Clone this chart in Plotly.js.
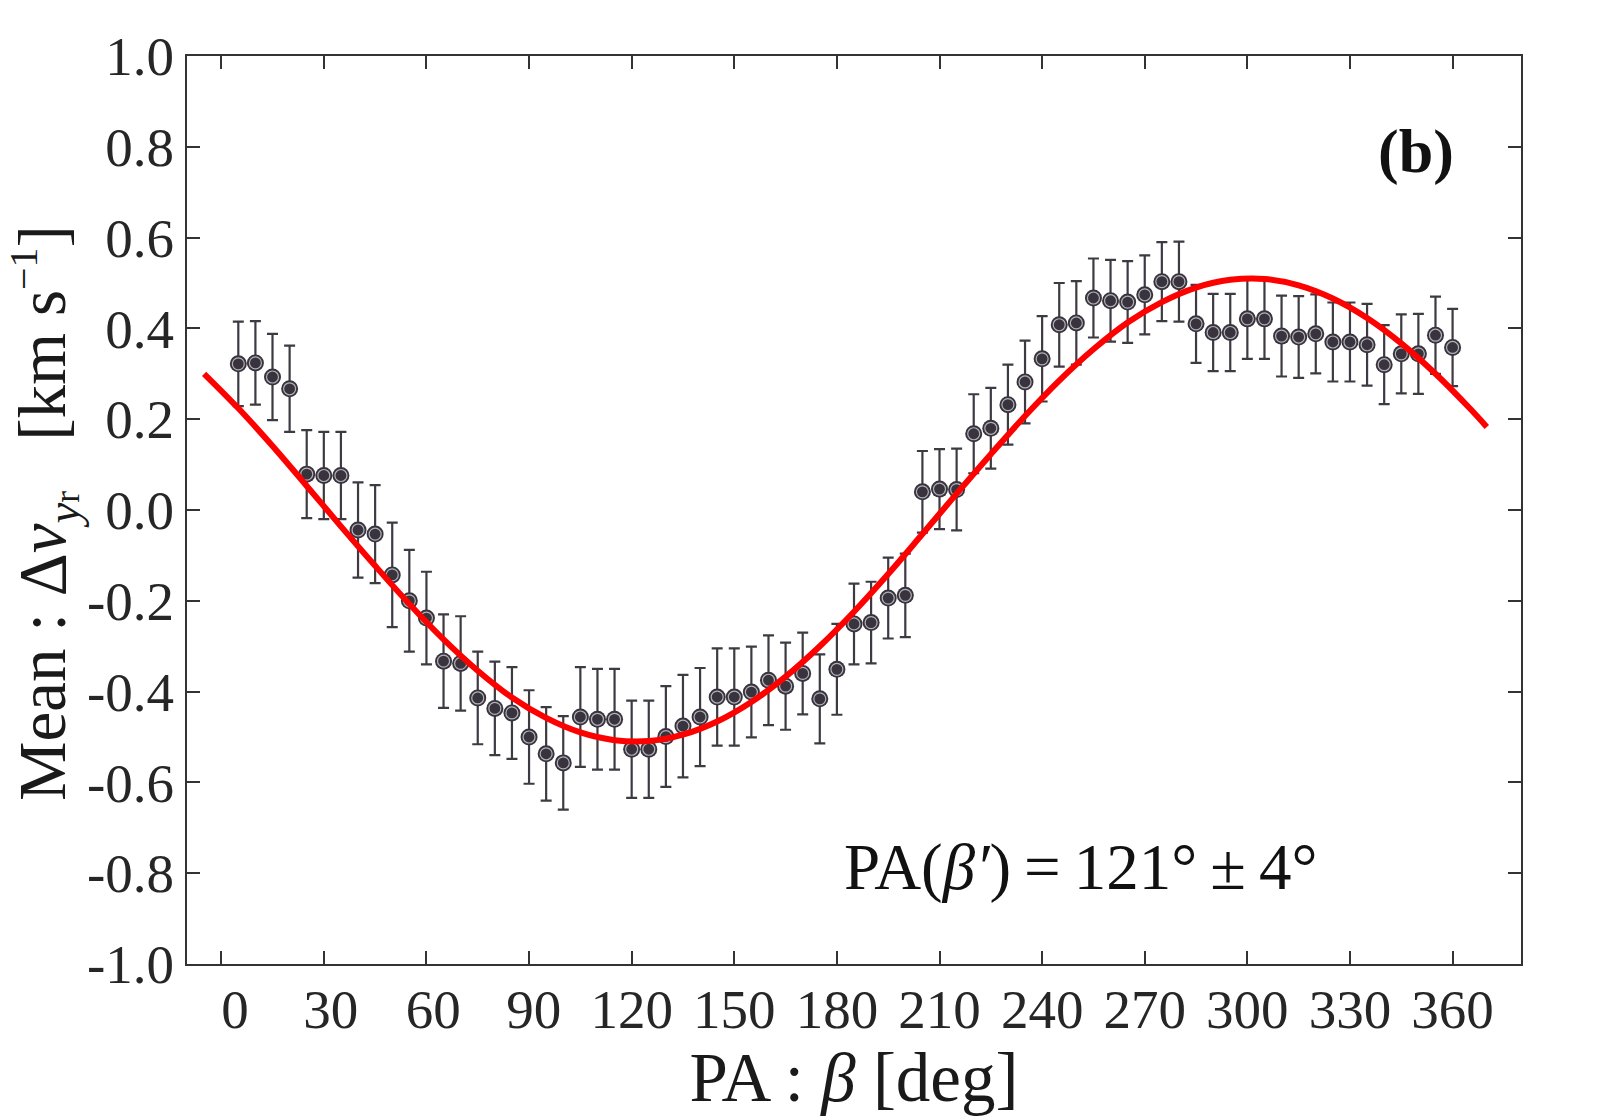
<!DOCTYPE html>
<html>
<head>
<meta charset="utf-8">
<script src="https://cdn.plot.ly/plotly-3.0.1.min.js"></script>
<style>html,body{margin:0;padding:0;background:#fff;}#chart{width:1600px;height:1120px;}</style>
</head>
<body>
<div id="chart"></div>
<script>
// Measured points: position angle (deg), mean value, error
const pa = [5,10,15,20,25,30,35,40,45,50,55,60,65,70,75,80,85,90,95,100,105,110,115,120,125,130,135,140,145,150,155,160,165,170,175,180,185,190,195,200,205,210,215,220,225,230,235,240,245,250,255,260,265,270,275,280,285,290,295,300,305,310,315,320,325,330,335,340,345,350,355,360];
const meanV = [0.322,0.324,0.293,0.267,0.079,0.076,0.076,-0.044,-0.053,-0.143,-0.200,-0.238,-0.333,-0.338,-0.414,-0.437,-0.447,-0.500,-0.537,-0.557,-0.456,-0.461,-0.461,-0.527,-0.527,-0.499,-0.476,-0.456,-0.412,-0.412,-0.401,-0.375,-0.388,-0.360,-0.416,-0.351,-0.251,-0.248,-0.194,-0.188,0.040,0.046,0.045,0.168,0.180,0.232,0.282,0.333,0.408,0.412,0.467,0.461,0.458,0.474,0.503,0.503,0.410,0.391,0.391,0.421,0.421,0.383,0.381,0.388,0.370,0.370,0.364,0.320,0.344,0.344,0.385,0.358];
const errV = [0.093,0.092,0.095,0.095,0.097,0.096,0.096,0.105,0.108,0.115,0.112,0.102,0.103,0.104,0.102,0.103,0.101,0.103,0.103,0.103,0.110,0.111,0.111,0.107,0.107,0.111,0.113,0.108,0.107,0.107,0.100,0.099,0.096,0.090,0.098,0.100,0.089,0.090,0.089,0.092,0.090,0.088,0.090,0.087,0.089,0.088,0.091,0.094,0.092,0.092,0.087,0.090,0.090,0.087,0.087,0.088,0.086,0.085,0.085,0.088,0.088,0.089,0.090,0.087,0.087,0.087,0.090,0.087,0.087,0.088,0.085,0.085];

// Fitted curve
const fitX = [-5,5,15,25,35,45,55,65,75,85,95,105,115,125,135,145,155,165,175,185,195,205,215,225,235,245,255,265,275,285,295,305,315,325,335,345,355,365,370];
const fitY = [0.300,0.224,0.141,0.053,-0.036,-0.123,-0.207,-0.285,-0.354,-0.413,-0.458,-0.490,-0.507,-0.509,-0.495,-0.466,-0.423,-0.367,-0.300,-0.224,-0.141,-0.053,0.036,0.123,0.207,0.285,0.354,0.413,0.458,0.490,0.507,0.509,0.495,0.466,0.423,0.367,0.300,0.224,0.183];

// Tick labels
const xTickVals = [0,30,60,90,120,150,180,210,240,270,300,330,360];
const xTickText = ['\u20020','\u200530','\u200560','\u200690','120','150','180','210','240','270','300','330','360'];
const yTickVals = [-1.0,-0.8,-0.6,-0.4,-0.2,0.0,0.2,0.4,0.6,0.8,1.0];
const yTickText = ['-1.0','-0.8','-0.6','-0.4','-0.2','0.0','0.2','0.4','0.6','0.8','1.0'];

const dark = '#38333d';
const serif = 'Liberation Serif, Times New Roman, serif';

const traces = [
  {
    x: pa, y: meanV, type: 'scatter', mode: 'markers',
    marker: {size: 17, color: dark, line: {width: 0}},
    error_y: {type: 'data', array: errV, visible: true, color: '#3d3a42', thickness: 2.2, width: 5.5},
    hoverinfo: 'x+y', showlegend: false
  },
  {
    x: pa, y: meanV, type: 'scatter', mode: 'markers',
    marker: {size: 12, color: dark, line: {width: 1.2, color: 'rgba(200,200,208,0.85)'}},
    hoverinfo: 'skip', showlegend: false
  },
  {
    x: fitX, y: fitY, type: 'scatter', mode: 'lines',
    line: {color: '#ff0000', width: 6, shape: 'spline', smoothing: 1},
    hoverinfo: 'skip', showlegend: false
  }
];

const axisCommon = {
  showline: true, linecolor: '#333333', linewidth: 2, mirror: 'ticks',
  ticks: 'inside', ticklen: 13, tickwidth: 2, tickcolor: '#333333',
  showgrid: false, zeroline: false,
  tickfont: {family: serif, size: 55, color: '#262626'}
};

const layout = {
  width: 1600, height: 1120,
  paper_bgcolor: '#ffffff', plot_bgcolor: '#ffffff',
  margin: {l: 187, r: 79, t: 56, b: 156},
  xaxis: Object.assign({}, axisCommon, {
    range: [-10, 380],
    tickmode: 'array', tickvals: xTickVals, ticktext: xTickText,
    ticklabelstandoff: -4,
    title: {text: 'PA : <i>β</i> [deg]', font: {family: serif, size: 69, color: '#1a1a1a'}, standoff: 0}
  }),
  yaxis: Object.assign({}, axisCommon, {
    range: [-1, 1],
    tickmode: 'array', tickvals: yTickVals, ticktext: yTickText
  }),
  annotations: [
    {
      xref: 'paper', yref: 'paper', x: -0.107, y: 0.497, xanchor: 'center', yanchor: 'middle',
      textangle: -90,
      text: 'Mean : Δ<i>v</i><sub><i>y</i><span style="font-size:0.75em">r</span></sub>   [km s<sup><span style="font-size:0.85em">−1</span></sup>]',
      showarrow: false, font: {family: serif, size: 67, color: '#1a1a1a'}
    },
    {
      xref: 'paper', yref: 'paper', x: 0.9215, y: 0.895, xanchor: 'center', yanchor: 'middle',
      text: '<b>(b)</b>', showarrow: false, font: {family: serif, size: 62, color: '#111111'}
    },
    {
      xref: 'paper', yref: 'paper', x: 0.67, y: 0.107, xanchor: 'center', yanchor: 'middle',
      text: 'PA(<i>β′</i>)\u2009=\u2009121°\u2009±\u20094°', showarrow: false, font: {family: serif, size: 65, color: '#111111'}
    }
  ]
};

Plotly.newPlot('chart', traces, layout, {displayModeBar: false, staticPlot: true});
</script>
</body>
</html>
